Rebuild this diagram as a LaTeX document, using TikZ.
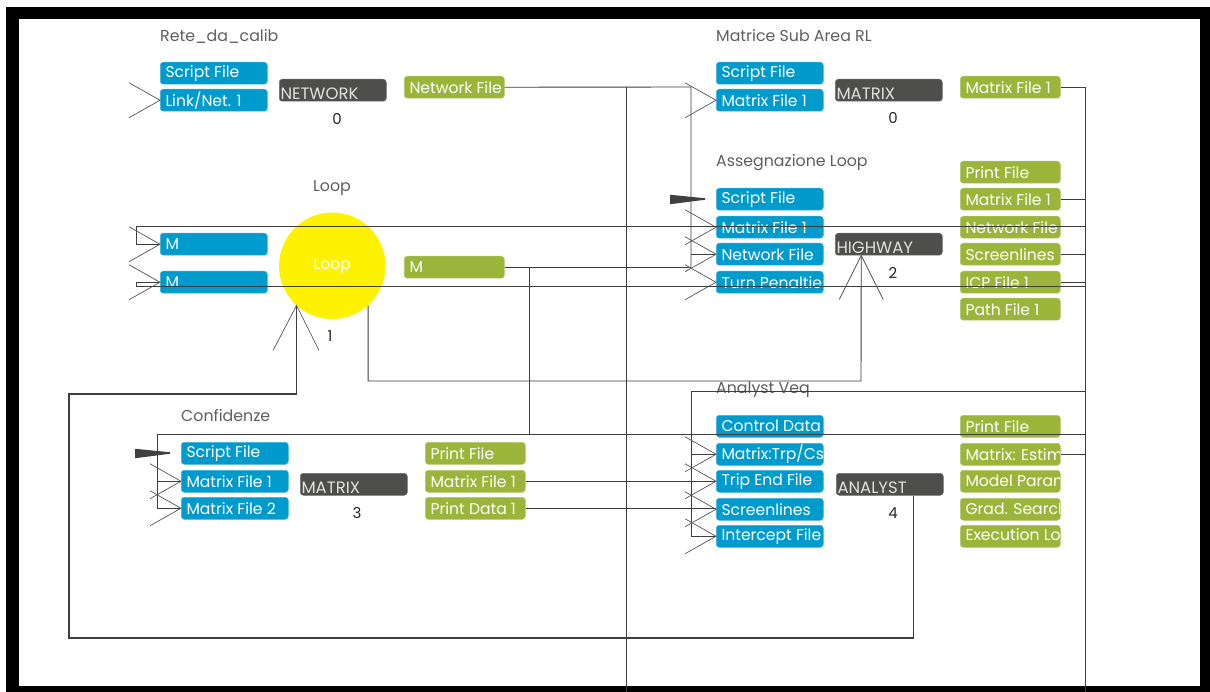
\documentclass[tikz,border=0pt]{standalone}
\usepackage{fontspec}
\setmainfont{Poppins}
\definecolor{bbox}{RGB}{0,155,205}
\definecolor{gbox}{RGB}{155,181,58}
\definecolor{dbox}{RGB}{78,79,76}
\definecolor{wirec}{RGB}{62,62,62}
\definecolor{chevc}{RGB}{85,85,85}
\definecolor{titlec}{RGB}{95,95,95}
\newcommand\fs{\fontsize{15.6}{16}\selectfont}
\newcommand\fd{\fontsize{16.5}{17}\selectfont}
\newcommand\ft{\fontsize{15.8}{16}\selectfont}
\newcommand\fn{\fontsize{15}{15}\selectfont}
\tikzset{
  boxbase/.style={rounded corners=3pt, minimum height=22pt, inner sep=0pt, anchor=north west},
  bluebox/.style={boxbase, fill=bbox, draw=bbox!75!white, line width=0.5pt, minimum width=107pt},
  greenbox/.style={boxbase, fill=gbox, draw=gbox!75!white, line width=0.5pt, minimum width=100pt},
  darkbox/.style={boxbase, fill=dbox, draw=dbox!80!white, line width=0.5pt, minimum width=107pt},
  plainlabel/.style={inner sep=0pt, minimum width=0pt, minimum height=0pt, draw=none, fill=none, rounded corners=0pt},
  boxlabel/.style={plainlabel, anchor=west, text=white, font=\fs},
  darklabel/.style={plainlabel, anchor=base west, text=white!88!black, font=\fd},
  titletext/.style={anchor=west, inner sep=0pt, text=titlec, font=\ft},
  numtext/.style={inner sep=0pt, text=black!85, font=\fn},
  wire/.style={draw=wirec, line width=0.9pt},
  chevline/.style={draw=chevc, line width=0.7pt},
  wedgefill/.style={fill=black!75}
}
% blue/green box: name, x, y, text
\newcommand\bbx[4]{\node[bluebox, path picture={\node[boxlabel] (#1-t) at ([xshift=5pt]path picture bounding box.west) {#4};}] (#1) at (#2,#3) {};}
\newcommand\gbx[4]{\node[greenbox, path picture={\node[boxlabel] (#1-t) at ([xshift=5pt]path picture bounding box.west) {#4};}] (#1) at (#2,#3) {};}
\newcommand\dbx[4]{\node[darkbox, path picture={\node[darklabel] (#1-t) at ([shift={(1pt,2pt)}]path picture bounding box.south west) {#4};}] (#1) at (#2,#3) {};}
\newcommand\chev[1]{\draw[chevline] ([shift={(-31pt,17.5pt)}]#1.west) -- (#1.west) -- ([shift={(-31pt,-17.5pt)}]#1.west);}
\newcommand\wedgeat[1]{\fill[wedgefill] ([shift={(-46pt,4.5pt)}]#1.west) -- ([shift={(-11pt,1pt)}]#1.west) -- ([shift={(-11pt,-0.5pt)}]#1.west) -- ([shift={(-46pt,-5pt)}]#1.west) -- cycle;}
\begin{document}
\begin{tikzpicture}[x=1pt,y=-1pt]
\useasboundingbox (0,0) rectangle (1210,692);
\fill[white] (0,0) rectangle (1210,692);
\fill[black] (6,7) rectangle (1210,692);
\fill[white] (19,19) rectangle (1200,686);

% ---------- Block 0: Rete_da_calib
\node[titletext] (t0) at (160,36) {Rete\_da\_calib};
\bbx{s0}{160}{62}{Script File}
\bbx{l0}{160}{89}{Link/Net. 1}
\dbx{n0}{279}{79}{NETWORK}
\node[numtext] (num0) at (337,119) {0};
\gbx{o0}{404}{76}{Network File}

% ---------- Block 1: Matrice Sub Area RL
\node[titletext] (t1) at (716,36) {Matrice Sub Area RL};
\bbx{s1}{716}{62}{Script File}
\bbx{m1}{716}{89}{Matrix File 1}
\dbx{x1}{835}{79}{MATRIX}
\node[numtext] (num1) at (893,118) {0};
\gbx{o1}{960}{76}{Matrix File 1}

% ---------- Loop
\node[inner sep=0pt, text=titlec, font=\ft] (tl) at (332,188) {Loop};
\bbx{ma}{160}{233}{M}
\bbx{mb}{160}{271}{M}
\node[circle, fill=yellow, minimum size=106.5pt, inner sep=0pt, text=white, font=\fs] (loop) at (332.3,265.8) {Loop};
\gbx{ml}{404}{256}{M}
\node[numtext] (num5) at (330,336) {1};

% ---------- Block 2: Assegnazione Loop
\node[titletext] (t2) at (716,163) {Assegnazione Loop};
\bbx{sf2}{716}{188}{Script File}
\bbx{mf2}{716}{216}{Matrix File 1}
\bbx{nf2}{716}{243}{Network File}
\bbx{tp2}{716}{271}{Turn Penalties}
\dbx{hw2}{835}{233}{HIGHWAY}
\node[numtext] (num2) at (893,273) {2};
\gbx{pf2}{960}{161}{Print File}
\gbx{mo2}{960}{188}{Matrix File 1}
\gbx{no2}{960}{216}{Network File}
\gbx{so2}{960}{243}{Screenlines}
\gbx{ic2}{960}{271}{ICP File 1}
\gbx{pa2}{960}{298}{Path File 1}

% ---------- Block 3: Confidenze
\node[titletext] (t3) at (181,416) {Confidenze};
\bbx{sf3}{181}{442}{Script File}
\bbx{mfa3}{181}{470}{Matrix File 1}
\bbx{mfb3}{181}{497}{Matrix File 2}
\dbx{mx3}{300}{473}{MATRIX}
\node[numtext] (num3) at (357,513) {3};
\gbx{pf3}{425}{442}{Print File}
\gbx{mo3}{425}{470}{Matrix File 1}
\gbx{pd3}{425}{497}{Print Data 1}

% ---------- Block 4: Analyst Veq
\node[titletext] (t4) at (716,390) {Analyst Veq};
\bbx{cd4}{716}{415}{Control Data}
\bbx{mt4}{716}{443}{Matrix:Trp/Cst}
\bbx{te4}{716}{470}{Trip End File}
\bbx{sc4}{716}{498}{Screenlines}
\bbx{in4}{716}{525}{Intercept File}
\dbx{an4}{836}{473}{ANALYST}
\node[numtext] (num4) at (893,513) {4};
\gbx{pf4}{960}{415}{Print File}
\gbx{me4}{960}{443}{Matrix: Estimated}
\gbx{mp4}{960}{470}{Model Parameters}
\gbx{gs4}{960}{498}{Grad. Search}
\gbx{el4}{960}{525}{Execution Log}

% ---------- coordinates
\coordinate (jA) at (691,87);
\coordinate (jB) at (691,267);
\coordinate (bot626) at (626,692);
\coordinate (bot1085) at (1085,692);
\coordinate (c226) at (136,226);
\coordinate (c286) at (136,286);
\coordinate (v529) at (529,434);
\coordinate (c434) at (157,434);
\coordinate (c391) at (691,391);
\coordinate (c381) at (861,381);
\coordinate (fbA) at (69,638);
\coordinate (fbB) at (69,394);

% ---------- wires
\draw[wire] (o0.east) -- (jA) -- (jB);
\draw[wire] (o0.east -| bot626) -- (bot626);
\draw[wire] (ml.east) -- (ml.east -| jB);
\draw[wire] (jA |- nf2.west) -- (nf2.west);
\draw[wire] (o1.east) -| (bot1085);
\draw[wire] (mo2.east) -- (mo2.east -| bot1085);
\draw[wire] (so2.east) -- (so2.east -| bot1085);
\draw[wire] (ic2.east) -- (ic2.east -| bot1085);
\draw[wire] (ma.west) -| (c226) -- (c226 -| bot1085);
\draw[wire] (mb.west) -| (c286) -- (c286 -| bot1085);
\draw[wire] (ml.east -| v529) -- (v529);
\draw[wire] (bot1085 |- c434) -- (c434) |- (mfb3.west);
\draw[wire] (c434 |- mfa3.west) -- (mfa3.west);
\draw[wire] (mo3.east) -- (mo3.east -| te4.west);
\draw[wire] (pd3.east) -- (pd3.east -| sc4.west);
\draw[wire] (bot1085 |- c391) -- (c391) |- (in4.west);
\draw[wire] (c391 |- mt4.west) -- (mt4.west);
\draw[wire] (me4.east) -- (me4.east -| bot1085);
\draw[wire, line width=1.3pt] ([xshift=24pt]an4.south) |- (fbA) -- (fbB) -| (loop.228);
\draw[wire] (loop.312) |- (c381) -- ([xshift=-27.5pt]hw2.south);

% ---------- arrowheads
\chev{l0}
\chev{m1}
\chev{ma}
\chev{mb}
\chev{mf2}
\chev{nf2}
\chev{tp2}
\chev{mfa3}
\chev{mfb3}
\chev{mt4}
\chev{te4}
\chev{sc4}
\chev{in4}
\wedgeat{sf2}
\wedgeat{sf3}
\draw[chevline] ([shift={(-23.5pt,-45pt)}]loop.228) -- (loop.228) -- ([shift={(22.5pt,-45pt)}]loop.228);
\draw[chevline] ([shift={(-22pt,-44pt)}]hw2.south) ++(-27.5pt,0) -- ([xshift=-27.5pt]hw2.south) -- ++(22pt,-44pt);
\end{tikzpicture}
\end{document}
